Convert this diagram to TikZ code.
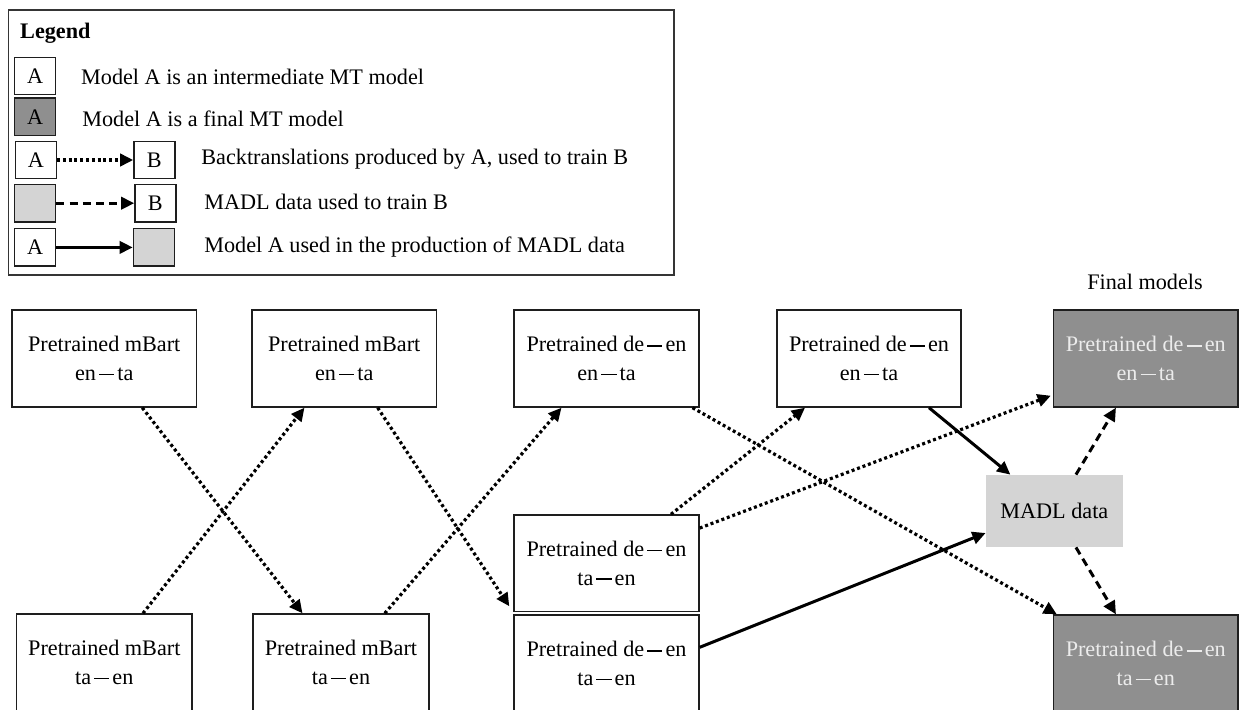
\documentclass[tikz,border=0pt]{standalone}
\usepackage{fontspec}
\setmainfont{Liberation Serif}
\usetikzlibrary{arrows.meta}
\definecolor{finalfill}{RGB}{143,143,143}
\definecolor{finaltext}{RGB}{236,236,236}
\definecolor{madlfill}{RGB}{212,212,212}
\definecolor{edgecol}{RGB}{30,30,30}
% spaced dash used in the language-pair labels
\newcommand{\pairdash}{\kern0.14em\rule[0.245em]{0.68em}{0.055em}\kern0.14em}
\tikzset{
  model/.style={draw=edgecol, line width=0.7pt, fill=white, align=center,
    inner sep=0pt, font=\fontsize{11.1pt}{14.15pt}\selectfont},
  finalmodel/.style={model, fill=finalfill, text=finaltext},
  madl/.style={fill=madlfill, inner sep=0pt, font=\fontsize{11.1pt}{14.15pt}\selectfont},
  key/.style={draw=edgecol, line width=0.7pt, minimum width=20.5pt, minimum height=18.7pt,
    inner sep=0pt, font=\fontsize{11.1pt}{13pt}\selectfont},
  keytext/.style={anchor=west, inner sep=0pt, font=\fontsize{11.1pt}{13pt}\selectfont},
  tipA/.style={-{Triangle[length=6.6pt,width=6.2pt]}},
  bt/.style={tipA, line width=1.6pt, dash pattern=on 1.5pt off 1.4pt},
  data/.style={tipA, line width=1.5pt, dash pattern=on 4pt off 2.6pt},
  prod/.style={tipA, line width=1.5pt}
}
\begin{document}
\begin{tikzpicture}[x=0.5pt,y=-0.5pt]
\useasboundingbox (0,0) rectangle (1239,709);

% legend frame
\draw[draw=edgecol!90, line width=0.85pt] (8.4,10) rectangle (674,275);
\node[keytext, font=\fontsize{11.1pt}{13pt}\selectfont\bfseries] (ltitle) at (19.8,33.3) {Legend};

\node[key] (k1) at (35.2,76) {A};
\node[keytext] (t1) at (80.8,76.7) {Model A is an intermediate MT model};

\node[key, fill=finalfill] (k2) at (35.2,116.7) {A};
\node[keytext] (t2) at (82,118.3) {Model A is a final MT model};

\node[key] (k3a) at (35.8,160) {A};
\node[key] (k3b) at (154.4,160) {B};
\draw[bt] (k3a) -- (k3b);
\node[keytext] (t3) at (201,158.7) {Backtranslations produced by A, used to train B};

\node[key, fill=madlfill] (k4a) at (35.2,203.2) {};
\node[key] (k4b) at (155.4,203.2) {B};
\draw[data] (k4a) -- (k4b);
\node[keytext] (t4) at (204,202) {MADL data used to train B};

\node[key] (k5a) at (35.2,247.4) {A};
\node[key, fill=madlfill] (k5b) at (153.9,247.4) {};
\draw[prod] (k5a) -- (k5b);
\node[keytext] (t5) at (204,247.3) {Model A used in the production of MADL data};

% column heading
\node[font=\fontsize{11.1pt}{13pt}\selectfont, inner sep=0pt] (fhead) at (1145,282) {Final models};

% top row
\node[model, minimum width=92.25pt, minimum height=48.5pt] (b1) at (104.25,358.5) {Pretrained mBart\\en\pairdash ta};
\node[model, minimum width=92.25pt, minimum height=48.5pt] (b2) at (344.25,358.5) {Pretrained mBart\\en\pairdash ta};
\node[model, minimum width=92.5pt, minimum height=48.5pt] (b3) at (606.5,358.5) {Pretrained de\pairdash en\\en\pairdash ta};
\node[model, minimum width=92pt, minimum height=48.5pt] (b4) at (869,358.5) {Pretrained de\pairdash en\\en\pairdash ta};
\node[finalmodel, minimum width=92.25pt, minimum height=48.5pt] (f1) at (1145.75,358.5) {Pretrained de\pairdash en\\en\pairdash ta};

% middle
\node[model, minimum width=92.5pt, minimum height=48.25pt] (m1) at (606.5,563.25) {Pretrained de\pairdash en\\ta\pairdash en};
\node[madl, minimum width=68.35pt, minimum height=36pt] (madl) at (1054.35,511) {MADL data};

% bottom row
\node[model, minimum width=87.7pt, minimum height=48.5pt] (b6) at (104.3,662.5) {Pretrained mBart\\ta\pairdash en};
\node[model, minimum width=88pt, minimum height=48.5pt] (b7) at (341,662.5) {Pretrained mBart\\ta\pairdash en};
\node[model, minimum width=92.5pt, minimum height=48.5pt] (b8) at (606.5,663.5) {Pretrained de\pairdash en\\ta\pairdash en};
\node[finalmodel, minimum width=92.25pt, minimum height=48.5pt] (f2) at (1145.75,663.5) {Pretrained de\pairdash en\\ta\pairdash en};

% backtranslation edges
\draw[bt] ([xshift=19pt]b1.south) -- ([xshift=-19.25pt]b7.north);
\draw[bt] ([xshift=19.35pt]b6.north) -- ([xshift=-19.9pt]b2.south);
\draw[bt] ([xshift=16.7pt]b2.south) -- ([xshift=-2pt,yshift=-21.5pt]m1.west);
\draw[bt] ([xshift=21.9pt]b7.north) -- ([xshift=-22.5pt]b3.south);
\draw[bt] ([xshift=43pt]b3.south) -- ([xshift=2pt]f2.north west);
\draw[bt] ([xshift=32.25pt]m1.north) -- ([xshift=-32pt]b4.south);
\draw[bt] ([yshift=17.6pt]m1.east) -- ([xshift=-1pt,yshift=6pt]f1.south west);

% MADL production and use
\draw[prod] ([xshift=30pt]b4.south) -- ([xshift=-22pt]madl.north);
\draw[prod] ([yshift=-16.5pt]b8.north east) -- ([yshift=-11pt]madl.west);
\draw[data] ([xshift=10.8pt]madl.north) -- ([xshift=-14.9pt]f1.south);
\draw[data] ([xshift=10.8pt]madl.south) -- ([xshift=-14.9pt]f2.north);
\end{tikzpicture}
\end{document}
